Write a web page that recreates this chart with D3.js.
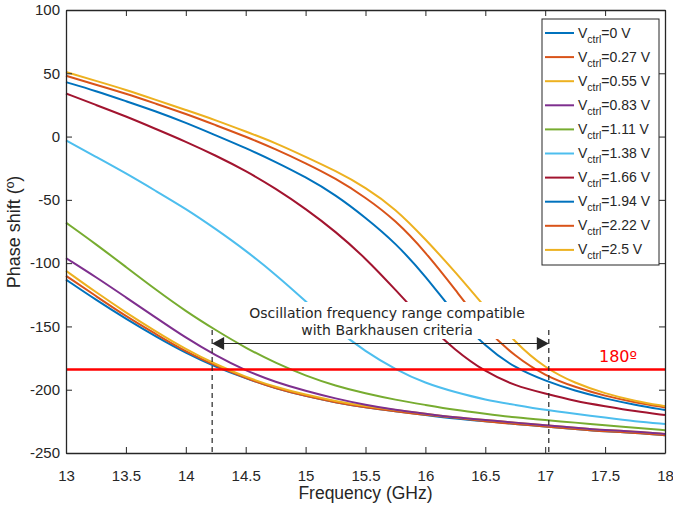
<!DOCTYPE html>
<html>
<head>
<meta charset="utf-8">
<script src="https://cdn.jsdelivr.net/npm/d3@7"></script>
<style>
  body { margin: 0; background: #fff; }
  svg { display: block; }
  .axis text { font-family: "Liberation Sans", Arial, sans-serif; font-size: 15px; fill: #262626; }
  .axis path, .axis line { stroke: #262626; }
</style>
</head>
<body>
<svg id="chart" width="673" height="506"></svg>
<script>
// frequency samples (GHz)
const freq = [13, 13.25, 13.5, 13.75, 14, 14.25, 14.5, 14.75, 15, 15.25, 15.5,
  15.75, 16, 16.25, 16.5, 16.75, 17, 17.25, 17.5, 17.75, 18];

const vctrl = ["0", "0.27", "0.55", "0.83", "1.11", "1.38", "1.66", "1.94", "2.22", "2.5"];

const phase0 = [-113, -129, -144, -158, -171, -182, -191, -199, -205, -210, -214, -217, -220, -223, -225, -227, -229, -231, -233, -234, -236];
const phase027 = [-110, -126, -142, -156, -170, -181, -191, -199, -205, -210, -214, -217, -220, -222, -225, -227, -229, -231, -233, -234, -236];
const phase055 = [-106, -123, -139, -154, -168, -180, -190, -198, -204, -209, -213, -216, -219, -222, -224, -226, -228, -230, -232, -233, -235];
const phase083 = [-96, -111, -127, -143, -159, -173, -185, -194, -201, -207, -212, -216, -219, -222, -224, -226, -228, -230, -232, -233, -235];
const phase111 = [-68, -85, -103, -121, -138, -153, -167, -179, -189, -197, -203, -208, -212, -216, -219, -222, -224, -226, -228, -230, -232];
const phase138 = [-3, -16, -29, -43, -57, -73, -90, -109, -130, -152, -170, -184, -195, -202, -208, -212, -216, -219, -222, -225, -227];
const phase166 = [34, 25, 16, 6, -4, -15, -27, -41, -57, -75, -96, -121, -147, -169, -186, -197, -203, -209, -213, -217, -220];
const phase194 = [43, 36, 28, 20, 11, 1, -9, -20, -32, -46, -64, -84, -110, -141, -166, -183, -193, -201, -207, -212, -216];
const phase222 = [48, 41, 34, 26, 18, 9, 0, -10, -21, -33, -48, -66, -91, -121, -152, -174, -189, -198, -205, -210, -214];
const phase250 = [51, 44, 37, 29, 21, 13, 4, -5, -16, -27, -40, -57, -81, -107, -135, -163, -183, -195, -203, -209, -213];

const seriesValues = [phase0, phase027, phase055, phase083, phase111, phase138, phase166, phase194, phase222, phase250];
const colors = ["#0072BD", "#D95319", "#EDB120", "#7E2F8E", "#77AC30", "#4DBEEE", "#A2142F", "#0072BD", "#D95319", "#EDB120"];

const xTicks = [13, 13.5, 14, 14.5, 15, 15.5, 16, 16.5, 17, 17.5, 18];
const yTicks = [100, 50, 0, -50, -100, -150, -200, -250];

const limitPhase = -184;       // red 180º line
const bandLow = 14.22, bandHigh = 17.03;

const svg = d3.select("#chart");
const mLeft = 66, mTop = 10, mRight = 665, mBottom = 453;

const x = d3.scaleLinear().domain([13, 18]).range([mLeft, mRight]);
const y = d3.scaleLinear().domain([-250, 100]).range([mBottom, mTop]);

// curves
const line = d3.line()
  .x((d, i) => x(freq[i]))
  .y(d => y(d))
  .curve(d3.curveBasis);

seriesValues.forEach((vals, k) => {
  svg.append("path")
    .attr("d", line(vals))
    .attr("fill", "none")
    .attr("stroke", colors[k])
    .attr("stroke-width", 2);
});

// red limit line + label
svg.append("line")
  .attr("x1", mLeft).attr("x2", mRight)
  .attr("y1", y(limitPhase)).attr("y2", y(limitPhase))
  .attr("stroke", "#FF0000")
  .attr("stroke-width", 2.5);

svg.append("text")
  .attr("x", 618).attr("y", y(limitPhase) - 7.5)
  .attr("text-anchor", "middle")
  .attr("font-family", "'DejaVu Sans', Verdana, sans-serif")
  .attr("font-size", 16)
  .attr("fill", "#FF0000")
  .text("180º");

// annotation text with white background
svg.append("rect")
  .attr("x", 243).attr("y", 302)
  .attr("width", 290).attr("height", 37)
  .attr("fill", "#fff");

const note = svg.append("text")
  .attr("text-anchor", "middle")
  .attr("font-family", "'DejaVu Sans', Verdana, sans-serif")
  .attr("font-size", 14)
  .attr("fill", "#262626");
note.append("tspan").attr("x", 387).attr("y", 318).text("Oscillation frequency range compatible");
note.append("tspan").attr("x", 387).attr("y", 335).text("with Barkhausen criteria");

// dashed band limits
[bandLow, bandHigh].forEach(f => {
  svg.append("line")
    .attr("x1", x(f)).attr("x2", x(f))
    .attr("y1", 330).attr("y2", mBottom)
    .attr("stroke", "#262626")
    .attr("stroke-width", 1.2)
    .attr("stroke-dasharray", "5,4");
});

// double arrow
const ay = 343.5;
svg.append("line")
  .attr("x1", x(bandLow) + 10).attr("x2", x(bandHigh) - 10)
  .attr("y1", ay).attr("y2", ay)
  .attr("stroke", "#262626")
  .attr("stroke-width", 1.2);
svg.append("path")
  .attr("d", `M${x(bandLow)},${ay} l12,-6.5 l0,13 Z`)
  .attr("fill", "#262626");
svg.append("path")
  .attr("d", `M${x(bandHigh)},${ay} l-12,-6.5 l0,13 Z`)
  .attr("fill", "#262626");

// axes (MATLAB style, ticks inside, boxed)
svg.append("g").attr("class", "axis")
  .attr("transform", `translate(0,${mBottom})`)
  .call(d3.axisBottom(x).tickValues(xTicks).tickFormat(d3.format("")).tickSizeInner(-6).tickSizeOuter(0).tickPadding(17))
  .call(g => g.select(".domain").attr("stroke-width", 1.3));

svg.append("g").attr("class", "axis")
  .attr("transform", `translate(0,${mTop})`)
  .call(d3.axisTop(x).tickValues(xTicks).tickFormat("").tickSizeInner(-6).tickSizeOuter(0))
  .call(g => g.select(".domain").attr("stroke-width", 1.3));

svg.append("g").attr("class", "axis")
  .attr("transform", `translate(${mLeft},0)`)
  .call(d3.axisLeft(y).tickValues(yTicks).tickFormat(d3.format("")).tickSizeInner(-6).tickSizeOuter(0).tickPadding(6))
  .call(g => g.select(".domain").attr("stroke-width", 1.3))
  .call(g => g.selectAll("text").text(d => d < 0 ? "-" + Math.abs(d) : d));

svg.append("g").attr("class", "axis")
  .attr("transform", `translate(${mRight},0)`)
  .call(d3.axisRight(y).tickValues(yTicks).tickFormat("").tickSizeInner(-6).tickSizeOuter(0))
  .call(g => g.select(".domain").attr("stroke-width", 1.3));

// axis titles
svg.append("text")
  .attr("x", (mLeft + mRight) / 2).attr("y", 499)
  .attr("text-anchor", "middle")
  .attr("font-family", "'Liberation Sans', Arial, sans-serif")
  .attr("font-size", 17.5)
  .attr("fill", "#262626")
  .text("Frequency (GHz)");

svg.append("text")
  .attr("transform", "translate(20,232) rotate(-90)")
  .attr("text-anchor", "middle")
  .attr("font-family", "'Liberation Sans', Arial, sans-serif")
  .attr("font-size", 18)
  .attr("fill", "#262626")
  .text("Phase shift (º)");

// legend
const lg = svg.append("g");
lg.append("rect")
  .attr("x", 542).attr("y", 19)
  .attr("width", 117).attr("height", 246)
  .attr("fill", "#fff")
  .attr("stroke", "#262626")
  .attr("stroke-width", 1);

vctrl.forEach((v, i) => {
  const ly = 33 + i * 24.1;
  lg.append("line")
    .attr("x1", 545).attr("x2", 574)
    .attr("y1", ly).attr("y2", ly)
    .attr("stroke", colors[i])
    .attr("stroke-width", 2);
  const t = lg.append("text")
    .attr("x", 578).attr("y", ly + 4.5)
    .attr("font-family", "'Liberation Sans', Arial, sans-serif")
    .attr("font-size", 14)
    .attr("fill", "#262626");
  t.append("tspan").text("V");
  t.append("tspan").attr("font-size", 10.5).attr("dy", 5).text("ctrl");
  t.append("tspan").attr("dy", -5).text("=" + v + " V");
});
</script>
</body>
</html>
